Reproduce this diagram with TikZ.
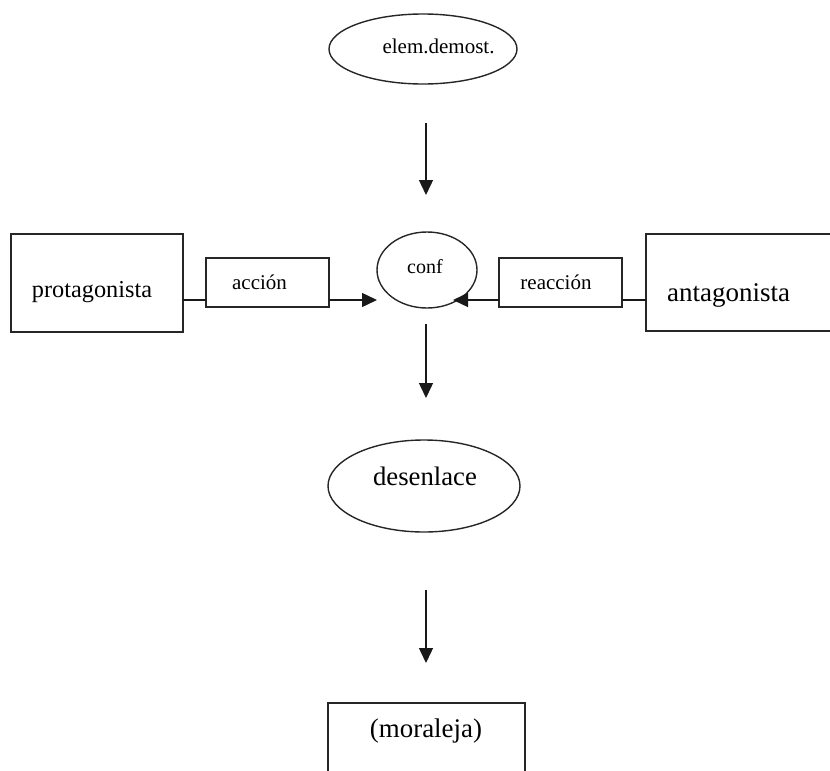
\documentclass[tikz,border=0pt]{standalone}
\usepackage{fontspec}
\setmainfont{Liberation Serif}
\usetikzlibrary{shapes.geometric,arrows.meta}
\begin{document}
\begin{tikzpicture}[x=1pt,y=-1pt,
  box/.style={draw=black!85,line width=1.4pt,rectangle,inner sep=0pt,outer sep=0pt},
  oval/.style={draw=black!85,line width=1.4pt,ellipse,inner sep=0pt,outer sep=0pt},
  txt/.style={inner sep=0pt,anchor=base},
  arr/.style={draw=black!90,line width=1.4pt,-{Triangle[length=15pt,width=14pt]}},
  ln/.style={draw=black!90,line width=1.4pt}]
\useasboundingbox (0,0) rectangle (830,771);
% shapes
\node[oval,minimum width=188pt,minimum height=70pt] (elem) at (423,49) {};
\node[oval,minimum width=100pt,minimum height=76pt] (conf) at (427,270) {};
\node[oval,minimum width=192pt,minimum height=92pt] (desen) at (424,486) {};
\node[box,minimum width=172pt,minimum height=98pt] (prot) at (97,283) {};
\node[box,minimum width=123pt,minimum height=49pt] (accion) at (267.5,282.5) {};
\node[box,minimum width=123pt,minimum height=49pt] (reac) at (560.5,282.5) {};
\node[box,minimum width=194pt,minimum height=97pt] (antag) at (743,282.5) {};
\node[box,minimum width=197pt,minimum height=90pt] (moral) at (426.5,748) {};
% texts
\node[txt,font=\fontsize{21}{24}\selectfont] (telem) at (438.5,53) {elem.demost.};
\node[txt,font=\fontsize{20}{24}\selectfont] (tconf) at (425,273) {conf};
\node[txt,font=\fontsize{26.7}{30}\selectfont] (tdesen) at (425,485) {desenlace};
\node[txt,font=\fontsize{24.3}{28}\selectfont] (tprot) at (92,297) {protagonista};
\node[txt,font=\fontsize{21}{24}\selectfont] (taccion) at (259.5,289) {acción};
\node[txt,font=\fontsize{21}{24}\selectfont] (treac) at (556,289) {reacción};
\node[txt,font=\fontsize{27}{30}\selectfont] (tantag) at (728.5,301) {antagonista};
\node[txt,font=\fontsize{26.9}{30}\selectfont] (tmoral) at (426,737) {(moraleja)};
% connector coordinates
\coordinate (hl) at (0,300);
\coordinate (cl) at (377,300);
\coordinate (cr) at (453,300);
\coordinate (v1s) at (426,123);
\coordinate (v1e) at (426,195);
\coordinate (v2s) at (426,324);
\coordinate (v2e) at (426,398);
\coordinate (v3s) at (426,590);
\coordinate (v3e) at (426,663);
% connectors
\draw[arr] (v1s) -- (v1e);
\draw[arr] (v2s) -- (v2e);
\draw[arr] (v3s) -- (v3e);
\draw[ln] (prot.east |- hl) -- (accion.west |- hl);
\draw[arr] (accion.east |- hl) -- (cl);
\draw[ln] (antag.west |- hl) -- (reac.east |- hl);
\draw[arr] (reac.west |- hl) -- (cr);
\end{tikzpicture}
\end{document}
